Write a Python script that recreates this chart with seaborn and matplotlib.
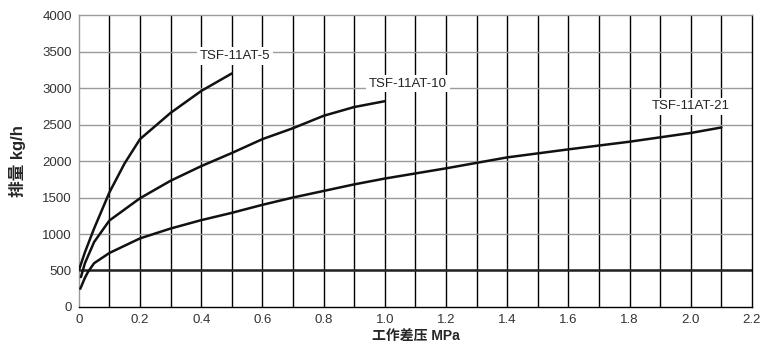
import numpy as np
import pandas as pd
import seaborn as sns
import matplotlib.pyplot as plt

# values (x in MPa, y in kg/h)
x_5 = [0.0, 0.02, 0.05, 0.1, 0.15, 0.2, 0.3, 0.4, 0.5]
y_5 = [500, 750, 1075, 1570, 1970, 2300, 2660, 2960, 3200]

x_10 = [0.007, 0.02, 0.05, 0.1, 0.2, 0.3, 0.4, 0.5, 0.6, 0.7, 0.8, 0.9, 1.0]
y_10 = [410, 600, 890, 1185, 1490, 1730, 1930, 2110, 2300, 2450, 2620, 2740, 2820]

x_21 = [0.005, 0.02, 0.03, 0.05, 0.1, 0.2, 0.3, 0.4, 0.5, 0.6, 0.7, 0.8, 0.9, 1.0,
        1.2, 1.4, 1.6, 1.8, 2.0, 2.1]
y_21 = [250, 400, 480, 600, 740, 940, 1075, 1190, 1290, 1400, 1500, 1590, 1680, 1760,
        1900, 2050, 2160, 2265, 2385, 2460]

labels = ["TSF-11AT-5", "TSF-11AT-10", "TSF-11AT-21"]
label_pos = [(0.51, 3440), (1.075, 3060), (2.0, 2750)]
min_flow = 500

df = pd.concat([
    pd.DataFrame({"x": x_5, "y": y_5, "model": labels[0]}),
    pd.DataFrame({"x": x_10, "y": y_10, "model": labels[1]}),
    pd.DataFrame({"x": x_21, "y": y_21, "model": labels[2]}),
])

sns.set_style("white")
plt.rcParams['font.family'] = ['Liberation Sans', 'Noto Sans CJK SC', 'DejaVu Sans']

fig = plt.figure(figsize=(7.65, 3.43), dpi=100)
ax = fig.add_axes([0.103, 0.105, 0.88, 0.851])

# grid: black verticals every 0.1, gray horizontals every 500
for gx in np.arange(0.1, 2.2, 0.1):
    ax.axvline(gx, color="black", lw=1.0, zorder=1)
for gy in range(500, 4000, 500):
    ax.axhline(gy, color="#9a9a9a", lw=1.0, zorder=1)
ax.axhline(min_flow, color="#222222", lw=1.8, zorder=2)

sns.lineplot(data=df, x="x", y="y", hue="model", palette=["#111111"] * 3,
             lw=1.8, legend=False, ax=ax, zorder=3, sort=False)

for lab, (lx, ly) in zip(labels, label_pos):
    ax.text(lx, ly, lab, ha="center", va="center", fontsize=9.5, color="#222222",
            bbox=dict(facecolor="white", edgecolor="none", pad=2.0), zorder=4)

ax.set_xlim(0, 2.2)
ax.set_ylim(0, 4000)
ax.set_xticks(np.arange(0, 2.21, 0.2))
ax.set_xticklabels(["0", "0.2", "0.4", "0.6", "0.8", "1.0", "1.2", "1.4", "1.6",
                    "1.8", "2.0", "2.2"])
ax.set_yticks(range(0, 4001, 500))
ax.tick_params(axis="both", length=0, labelsize=9.5, labelcolor="#333333", pad=5)

for side in ["left", "top"]:
    ax.spines[side].set_color("#9a9a9a")
for side in ["bottom", "right"]:
    ax.spines[side].set_color("black")
for s in ax.spines.values():
    s.set_linewidth(1.0)

ax.set_ylabel("排量 kg/h", fontsize=12, fontweight="bold", labelpad=12)
ax.set_xlabel("工作差压 MPa", fontsize=10, fontweight="bold", labelpad=3)

fig.savefig("out.png", dpi=100)
